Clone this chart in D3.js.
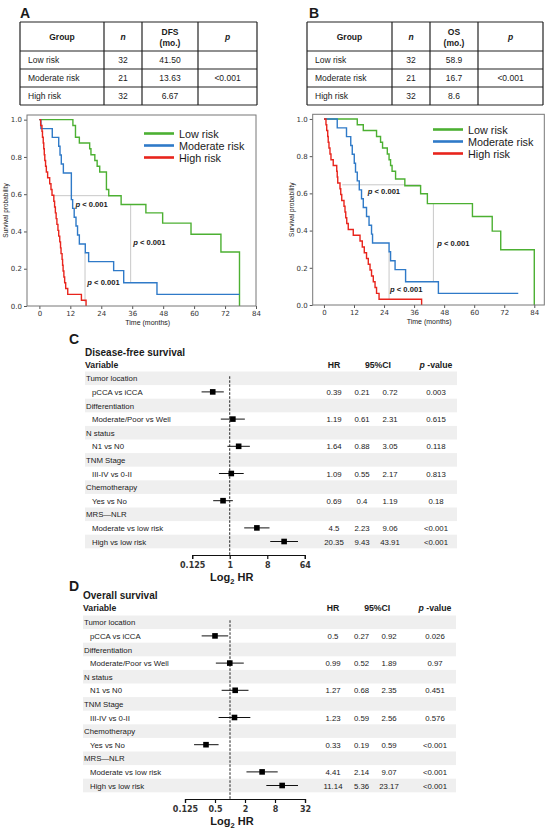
<!DOCTYPE html>
<html>
<head>
<meta charset="utf-8">
<script src="https://cdn.jsdelivr.net/npm/d3@7"></script>
<style>
  body { margin: 0; background: #fff; }
  svg { display: block; }
  text { font-family: "Liberation Sans", Arial, sans-serif; fill: #1a1a1a; }
  .tick text { font-family: "DejaVu Sans", sans-serif; fill: #333; }
</style>
</head>
<body>
<div class="canvas"></div>
<script>
// ---- data ----
const groups = ['Low risk', 'Moderate risk', 'High risk'];
const groupColors = ['#4cb032', '#2f7ac8', '#e8241c'];

const dfsN = [32, 21, 32];
const dfsMedian = ['41.50', '13.63', '6.67'];
const osN = [32, 21, 32];
const osMedian = ['58.9', '16.7', '8.6'];
const groupP = '<0.001';

// KM step points [months, survival]
const dfsLow = [[0,1],[13,0.969],[14,0.906],[15.5,0.875],[19.5,0.844],[20,0.812],[21.5,0.781],[22.4,0.75],[23.4,0.719],[26,0.625],[26.9,0.592],[31.7,0.545],[41.3,0.5],[47.8,0.445],[58.8,0.385],[70.4,0.29],[77.6,0]];
const dfsMod = [[0,1],[0.6,0.952],[5,0.905],[7.5,0.857],[8,0.81],[8.5,0.762],[9.3,0.714],[12.4,0.571],[12.9,0.524],[13.5,0.476],[14.2,0.429],[14.8,0.381],[15.5,0.333],[17.8,0.286],[19.1,0.238],[28.8,0.19],[32.7,0.125],[45.6,0.0625],[77.6,0.0625]];
const dfsHigh = [[0,1],[0.5,0.969],[1,0.938],[1.2,0.906],[1.5,0.875],[1.7,0.844],[1.9,0.812],[2.1,0.781],[2.4,0.75],[2.7,0.719],[3.2,0.688],[4,0.656],[4.5,0.625],[4.9,0.594],[5.6,0.562],[5.9,0.531],[6.2,0.5],[6.5,0.469],[6.8,0.438],[7.2,0.406],[7.5,0.375],[7.9,0.344],[8.2,0.312],[8.4,0.281],[8.8,0.25],[9,0.219],[9.2,0.188],[9.5,0.156],[9.8,0.125],[10.2,0.094],[11,0.0625],[16.3,0.031],[18.1,0]];

const osLow = [[0,1],[13.3,0.969],[15.7,0.938],[21,0.906],[22.6,0.875],[23.4,0.844],[25.3,0.812],[26,0.781],[26.6,0.75],[27.2,0.719],[28.6,0.677],[32.3,0.641],[38.6,0.598],[41.3,0.545],[59.3,0.476],[67.2,0.397],[70.6,0.297],[84,0]];
const osMod = [[0,1],[5.3,0.952],[9,0.905],[10.7,0.857],[11.3,0.81],[12.1,0.762],[12.6,0.714],[13.3,0.667],[14.1,0.619],[15,0.571],[15.7,0.524],[17,0.476],[18,0.429],[19,0.381],[19.4,0.333],[26,0.286],[26.6,0.238],[28.4,0.19],[32.6,0.125],[45.7,0.0625],[77.6,0.0625]];
const osHigh = [[0,1],[0.8,0.969],[1.1,0.938],[1.5,0.906],[1.7,0.875],[2,0.844],[2.4,0.812],[2.8,0.781],[3.7,0.75],[5.1,0.719],[5.3,0.688],[5.5,0.656],[6.4,0.625],[6.7,0.594],[7.1,0.562],[8,0.531],[8.4,0.5],[8.7,0.469],[9.1,0.438],[9.7,0.406],[11.7,0.375],[14.4,0.344],[15.3,0.312],[16.1,0.281],[17,0.25],[17.7,0.219],[18.4,0.188],[19,0.156],[19.7,0.125],[20.4,0.094],[21,0.0625],[22,0.031],[39,0]];

// comparison guide lines [x1, y1, x2, y2] and p labels [x, y]
const dfsGuides = [[5.5,0.592,27.2,0.592],[17.7,0.286,17.7,0.02],[35.4,0.545,35.4,0.125]];
const dfsPLabels = [[14,0.55],[36.4,0.345],[18.6,0.13]];
const osGuides = [[7.3,0.646,38.6,0.646],[26,0.286,26,0.03],[43.7,0.545,43.7,0.125]];
const osPLabels = [[17.5,0.612],[45.2,0.334],[26.4,0.084]];

const kmXTicks = [0, 12, 24, 36, 48, 60, 72, 84];
const kmYTicks = [0, 0.2, 0.4, 0.6, 0.8, 1.0];

// forest plots
const forestRows = ['Tumor location', 'pCCA vs iCCA', 'Differentiation', 'Moderate/Poor vs Well',
  'N status', 'N1 vs N0', 'TNM Stage', 'III-IV vs 0-II', 'Chemotherapy', 'Yes vs No',
  'MRS\u2014NLR', 'Moderate vs low risk', 'High vs low risk'];
const rowIsGroup = [1, 0, 1, 0, 1, 0, 1, 0, 1, 0, 1, 0, 0];
const comparisonRows = [1, 3, 5, 7, 9, 11, 12];

const dfsHR = [0.39, 1.19, 1.64, 1.09, 0.69, 4.5, 20.35];
const dfsLo = [0.21, 0.61, 0.88, 0.55, 0.4, 2.23, 9.43];
const dfsHi = [0.72, 2.31, 3.05, 2.17, 1.19, 9.06, 43.91];
const dfsP = ['0.003', '0.615', '0.118', '0.813', '0.18', '<0.001', '<0.001'];

const osHR = [0.5, 0.99, 1.27, 1.23, 0.33, 4.41, 11.14];
const osLo = [0.27, 0.52, 0.68, 0.59, 0.19, 2.14, 5.36];
const osHi = [0.92, 1.89, 2.35, 2.56, 0.59, 9.07, 23.17];
const osP = ['0.026', '0.97', '0.451', '0.576', '<0.001', '<0.001', '<0.001'];

const dfsTicks = [0.125, 1, 8, 64];
const osTicks = [0.125, 0.5, 2, 8, 32];

// ---- svg ----
const svg = d3.select('.canvas').append('svg')
  .attr('width', 550)
  .attr('height', 833);

function letter(x, y, t) {
  svg.append('text').attr('x', x).attr('y', y)
    .attr('font-size', 14).attr('font-weight', 'bold').text(t);
}

// ---- tables ----
function drawTable(colEdges, rowEdges, outcome, nVals, medians) {
  const g = svg.append('g');
  const mid = i => (colEdges[i] + colEdges[i + 1]) / 2;
  const rowMid = i => (rowEdges[i] + rowEdges[i + 1]) / 2;

  rowEdges.forEach(y => g.append('line')
    .attr('x1', colEdges[0]).attr('x2', colEdges[colEdges.length - 1])
    .attr('y1', y).attr('y2', y).attr('stroke', '#222').attr('stroke-width', 1.2));
  colEdges.forEach(x => g.append('line')
    .attr('x1', x).attr('x2', x)
    .attr('y1', rowEdges[0]).attr('y2', rowEdges[rowEdges.length - 1])
    .attr('stroke', '#222').attr('stroke-width', 1.2));

  const hy = rowMid(0);
  g.append('text').attr('x', mid(0)).attr('y', hy + 3).attr('text-anchor', 'middle')
    .attr('font-size', 8.5).attr('font-weight', 'bold').text('Group');
  g.append('text').attr('x', mid(1)).attr('y', hy + 3).attr('text-anchor', 'middle')
    .attr('font-size', 8.5).attr('font-weight', 'bold').attr('font-style', 'italic').text('n');
  g.append('text').attr('x', mid(2)).attr('y', hy - 1.5).attr('text-anchor', 'middle')
    .attr('font-size', 8.5).attr('font-weight', 'bold').text(outcome);
  g.append('text').attr('x', mid(2)).attr('y', hy + 9).attr('text-anchor', 'middle')
    .attr('font-size', 8.5).attr('font-weight', 'bold').text('(mo.)');
  g.append('text').attr('x', mid(3)).attr('y', hy + 3).attr('text-anchor', 'middle')
    .attr('font-size', 8.5).attr('font-weight', 'bold').attr('font-style', 'italic').text('p');

  groups.forEach((grp, i) => {
    const y = rowMid(i + 1) + 3;
    g.append('text').attr('x', colEdges[0] + 8).attr('y', y).attr('font-size', 8.5).text(grp);
    g.append('text').attr('x', mid(1)).attr('y', y).attr('text-anchor', 'middle')
      .attr('font-size', 8.5).text(nVals[i]);
    g.append('text').attr('x', mid(2)).attr('y', y).attr('text-anchor', 'middle')
      .attr('font-size', 8.5).text(medians[i]);
  });
  g.append('text').attr('x', mid(3)).attr('y', rowMid(2) + 3).attr('text-anchor', 'middle')
    .attr('font-size', 8.5).text(groupP);
}

letter(20, 18, 'A');
drawTable([20, 104, 142, 198, 257], [22, 51, 69, 87, 105], 'DFS', dfsN, dfsMedian);
letter(309, 18, 'B');
drawTable([307, 392, 430, 478, 543], [22, 51, 69, 87, 105], 'OS', osN, osMedian);

// ---- KM plots ----
function drawKM(frame, xDomain, curves, guides, pLabels, legendPos) {
  const x = d3.scaleLinear().domain(xDomain).range([frame.left, frame.right]);
  const y = d3.scaleLinear().domain([0, 1.025]).range([frame.bottom, frame.top]);
  const g = svg.append('g');

  const xAxis = g.append('g')
    .attr('transform', `translate(0, ${frame.bottom})`)
    .call(d3.axisBottom(x).tickValues(kmXTicks).tickSize(3).tickPadding(2));
  const yAxis = g.append('g')
    .attr('transform', `translate(${frame.left}, 0)`)
    .call(d3.axisLeft(y).tickValues(kmYTicks).tickSize(3).tickPadding(2).tickFormat(d3.format('.1f')));
  [xAxis, yAxis].forEach(a => {
    a.select('.domain').remove();
    a.selectAll('.tick line').attr('stroke', '#555');
    a.selectAll('.tick text').attr('font-size', 7);
  });

  // guide lines
  guides.forEach(d => g.append('line')
    .attr('x1', x(d[0])).attr('y1', y(d[1]))
    .attr('x2', x(d[2])).attr('y2', y(d[3]))
    .attr('stroke', '#c8c8c8').attr('stroke-width', 1));

  const line = d3.line()
    .x(d => x(d[0]))
    .y(d => y(d[1]))
    .curve(d3.curveStepAfter);

  curves.forEach((c, i) => g.append('path')
    .attr('d', line(c))
    .attr('fill', 'none')
    .attr('stroke', groupColors[i])
    .attr('stroke-width', 1.4));

  pLabels.forEach(d => {
    const t = g.append('text').attr('x', x(d[0])).attr('y', y(d[1]) + 3)
      .attr('font-size', 7.6).attr('font-weight', 'bold');
    t.append('tspan').attr('font-style', 'italic').text('p');
    t.append('tspan').text(' < 0.001');
  });

  g.append('rect')
    .attr('x', frame.left).attr('y', frame.top)
    .attr('width', frame.right - frame.left).attr('height', frame.bottom - frame.top)
    .attr('fill', 'none').attr('stroke', '#777').attr('stroke-width', 1);

  g.append('text')
    .attr('transform', `translate(${frame.left - 19}, ${(frame.top + frame.bottom) / 2}) rotate(-90)`)
    .attr('text-anchor', 'middle')
    .attr('font-family', 'DejaVu Sans')
    .attr('font-size', 6.5).attr('fill', '#333')
    .text('Survival probability');
  g.append('text')
    .attr('x', x((kmXTicks[0] + kmXTicks[kmXTicks.length - 1]) / 2))
    .attr('y', frame.bottom + 18.5)
    .attr('text-anchor', 'middle')
    .attr('font-family', 'DejaVu Sans')
    .attr('font-size', 7).attr('fill', '#333')
    .text('Time (months)');

  // legend
  groups.forEach((grp, i) => {
    const ly = legendPos.y + i * 12;
    g.append('line')
      .attr('x1', legendPos.x).attr('x2', legendPos.x + 30)
      .attr('y1', ly).attr('y2', ly)
      .attr('stroke', groupColors[i]).attr('stroke-width', 2.6);
    g.append('text')
      .attr('x', legendPos.x + 35).attr('y', ly + 4)
      .attr('font-size', 10.8)
      .text(grp);
  });
}

drawKM({left: 27, right: 256, top: 115, bottom: 306}, [-4.8, 84],
  [dfsLow, dfsMod, dfsHigh], dfsGuides, dfsPLabels, {x: 144, y: 133.5});
drawKM({left: 312.7, right: 544.3, top: 114.3, bottom: 305}, [-4.5, 88],
  [osLow, osMod, osHigh], osGuides, osPLabels, {x: 433, y: 129.5});

// ---- forest plots ----
function drawForest(o) {
  const g = svg.append('g');
  const rowY = i => o.top + i * 13.6;
  const x = d3.scaleLog().base(2).domain(o.domain).range(o.range);

  letter(o.letterX, o.letterY, o.letter);
  g.append('text').attr('x', o.left).attr('y', o.titleY)
    .attr('font-size', 10).attr('font-weight', 'bold').text(o.title);
  g.append('text').attr('x', o.left).attr('y', o.titleY + 12)
    .attr('font-size', 8.7).attr('font-weight', 'bold').text('Variable');
  g.append('text').attr('x', o.cols.hr).attr('y', o.titleY + 12).attr('text-anchor', 'middle')
    .attr('font-size', 8.7).attr('font-weight', 'bold').text('HR');
  g.append('text').attr('x', (o.cols.lo + o.cols.hi) / 2 + 2).attr('y', o.titleY + 12).attr('text-anchor', 'middle')
    .attr('font-size', 8.7).attr('font-weight', 'bold').text('95%CI');
  const ph = g.append('text').attr('x', o.cols.p).attr('y', o.titleY + 12).attr('text-anchor', 'middle')
    .attr('font-size', 8.7).attr('font-weight', 'bold');
  ph.append('tspan').attr('font-style', 'italic').text('p');
  ph.append('tspan').text(' -value');

  forestRows.forEach((r, i) => {
    if (i % 2 === 0) {
      g.append('rect').attr('x', o.left).attr('y', rowY(i) - 6.8)
        .attr('width', o.right - o.left).attr('height', 13.6).attr('fill', '#efefef');
    }
    g.append('text').attr('x', rowIsGroup[i] ? o.left + 1 : o.left + 7)
      .attr('y', rowY(i) + 3).attr('font-size', 7.8).text(r);
  });

  // reference line at HR = 1
  g.append('line')
    .attr('x1', x(1)).attr('x2', x(1))
    .attr('y1', rowY(0) - 2).attr('y2', o.axisY)
    .attr('stroke', '#222').attr('stroke-width', 1).attr('stroke-dasharray', '2.5,1.5');

  comparisonRows.forEach((ri, k) => {
    const cy = rowY(ri);
    g.append('line')
      .attr('x1', x(o.lo[k])).attr('x2', x(o.hi[k]))
      .attr('y1', cy).attr('y2', cy)
      .attr('stroke', '#111').attr('stroke-width', 1);
    g.append('rect')
      .attr('x', x(o.hr[k]) - 2.8).attr('y', cy - 2.8)
      .attr('width', 5.6).attr('height', 5.6).attr('fill', '#000');
    [[o.cols.hr, o.hr[k]], [o.cols.lo, o.lo[k]], [o.cols.hi, o.hi[k]], [o.cols.p, o.p[k]]]
      .forEach(c => g.append('text').attr('x', c[0]).attr('y', cy + 3)
        .attr('text-anchor', 'middle').attr('font-size', 7.8).text(c[1]));
  });

  const axis = g.append('g')
    .attr('transform', `translate(0, ${o.axisY})`)
    .call(d3.axisBottom(x).tickValues(o.ticks).tickSize(4).tickPadding(3).tickFormat(d => String(d)));
  axis.select('.domain').attr('stroke', '#111').attr('stroke-width', 1.2);
  axis.selectAll('.tick line').attr('stroke', '#111').attr('stroke-width', 1.2);
  axis.selectAll('.tick text')
    .attr('font-family', '"Liberation Sans", Arial, sans-serif')
    .attr('font-size', 8).attr('font-weight', 'bold').attr('fill', '#111');

  const lab = g.append('text').attr('x', x(1) + 2).attr('y', o.axisY + 26)
    .attr('text-anchor', 'middle').attr('font-size', 11).attr('font-weight', 'bold');
  lab.append('tspan').text('Log');
  lab.append('tspan').attr('font-size', 7.5).attr('dy', 2.5).text('2');
  lab.append('tspan').attr('dy', -2.5).text(' HR');
}

drawForest({
  letter: 'C', letterX: 69, letterY: 344,
  title: 'Disease-free survival', titleY: 356,
  left: 85, right: 457, top: 378.3,
  domain: [0.125, 64], range: [192.2, 304.8], ticks: dfsTicks, axisY: 555,
  cols: {hr: 334, lo: 362, hi: 390, p: 436},
  hr: dfsHR, lo: dfsLo, hi: dfsHi, p: dfsP
});

drawForest({
  letter: 'D', letterX: 69, letterY: 591,
  title: 'Overall survival', titleY: 599,
  left: 83, right: 456, top: 622.3,
  domain: [0.125, 32], range: [185, 305], ticks: osTicks, axisY: 799,
  cols: {hr: 333, lo: 361.5, hi: 389, p: 435},
  hr: osHR, lo: osLo, hi: osHi, p: osP
});
</script>
</body>
</html>
